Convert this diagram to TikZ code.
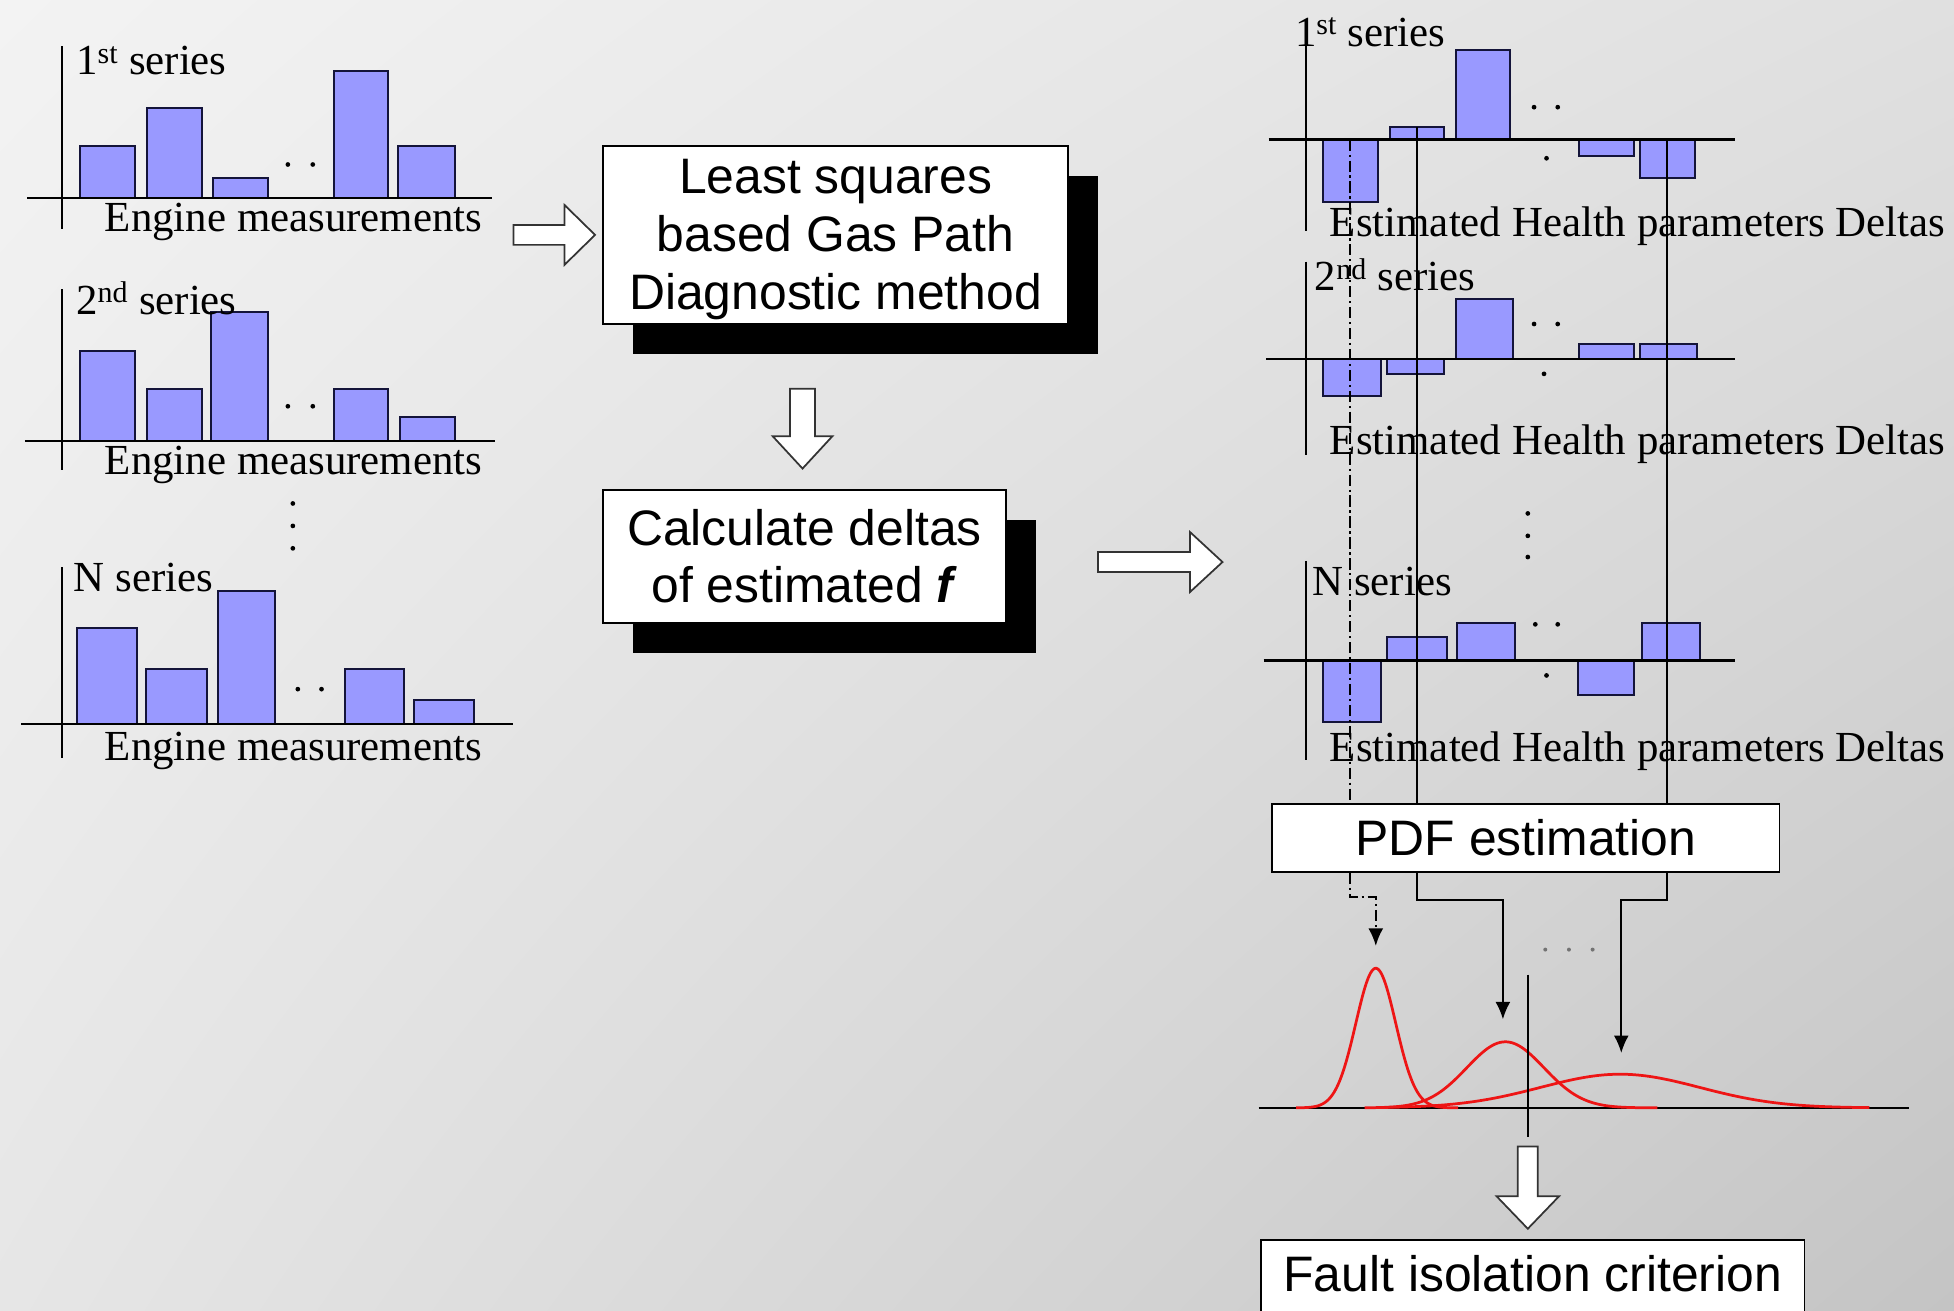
\documentclass[tikz,border=0pt]{standalone}
\usepackage{fontspec}
\setmainfont{Liberation Serif}
\newfontfamily\arialfont{Liberation Sans}
\usetikzlibrary{arrows.meta,shadows,shadings}
\definecolor{barblue}{HTML}{9999FF}
\definecolor{baredge}{HTML}{14143A}
\definecolor{pdfred}{HTML}{EE1515}
\definecolor{bgTL}{HTML}{F3F3F3}
\definecolor{bgTR}{HTML}{E0E0E0}
\definecolor{bgBL}{HTML}{E6E6E6}
\definecolor{bgBR}{HTML}{C4C4C4}
\begin{document}
\begin{tikzpicture}[x=1pt, y=-1pt,
  >={Latex[length=14pt,width=12pt]},
  axisline/.style={line width=1.9pt},
  barrect/.style={draw=baredge, line width=1.6pt, fill=barblue},
  serieslbl/.style={anchor=base west, inner sep=0pt, font=\fontsize{34.4}{40}\selectfont},
  procbox/.style={draw=black, line width=1.5pt, fill=white, inner sep=0pt, align=center,
    font=\arialfont\fontsize{40}{46.5}\selectfont},
  shadowed/.style={drop shadow={shadow xshift=24pt, shadow yshift=-24pt, fill=black, opacity=1}},
  hollowarrow/.style={draw=black!80, line width=1.4pt, fill=white, line join=miter},
  feedline/.style={line width=1.6pt},
  dashdotline/.style={line width=1.6pt, dash pattern=on 9pt off 3pt on 1.8pt off 3pt},
  density/.style={draw=pdfred, line width=2.2pt},
  dotmark/.style={fill=black},
  faintdot/.style={fill=black!55}
]
\useasboundingbox (0,0) rectangle (1568,1052);
\shade[upper left=bgTL, upper right=bgTR, lower left=bgBL, lower right=bgBR] (0,0) rectangle (1568,1052);

% ---------- left: engine measurement series ----------
% series 1
\draw[barrect] (64,159) rectangle (108,117) (118,159) rectangle (162,87) (171,159) rectangle (215,143)
  (268,159) rectangle (311,57) (319,159) rectangle (365,117);
\draw[axisline] (50,37) -- (50,184);
\draw[axisline] (22,159) -- (395,159);
\fill[dotmark] (231,132) circle (1.9pt) (251,132) circle (1.9pt);
\node[serieslbl] (ls1) at (61,60) {1\textsuperscript{st} series};
\node[serieslbl] (le1) at (84,186) {Engine measurements};

% series 2
\draw[barrect] (64,354) rectangle (108,282) (118,354) rectangle (162,312) (169,354) rectangle (215,250)
  (268,354) rectangle (311,312) (321,354) rectangle (365,335);
\draw[axisline] (50,232) -- (50,377);
\draw[axisline] (20,354) -- (397,354);
\fill[dotmark] (231,326) circle (1.9pt) (251,326) circle (1.9pt);
\node[serieslbl] (ls2) at (61,252) {2\textsuperscript{nd} series};
\node[serieslbl] (le2) at (84,381) {Engine measurements};

% vertical ellipsis
\fill[dotmark] (235,404) circle (1.9pt) (235,422) circle (1.9pt) (235,440) circle (1.9pt);

% series N
\draw[barrect] (62,581) rectangle (110,504) (117,581) rectangle (166,537) (175,581) rectangle (221,474)
  (277,581) rectangle (324,537) (332,581) rectangle (380,562);
\draw[axisline] (50,455) -- (50,608);
\draw[axisline] (17,581) -- (412,581);
\fill[dotmark] (239,553) circle (1.9pt) (258,553) circle (1.9pt);
\node[serieslbl] (lsn) at (59,475) {N series};
\node[serieslbl] (len) at (84,610) {Engine measurements};

% ---------- middle: processing boxes ----------
\node[procbox, shadowed, minimum width=373pt, minimum height=143pt] (ls) at (670.5,188.5)
  {\rule{0pt}{34.6pt}Least squares\\based Gas Path\\Diagnostic method};
\node[procbox, shadowed, minimum width=323pt, minimum height=107pt, font=\arialfont\fontsize{40}{46}\selectfont] (cd) at (645.5,446.5)
  {Calculate deltas\\of estimated \textbf{\textit{f}}};

% hollow arrows
\draw[hollowarrow] (412,180.5) -- (453,180.5) -- (453,164.5) -- (477.5,188.5) -- (453,212.5) -- (453,196.5) -- (412,196.5) -- cycle;
\draw[hollowarrow] (634,312) -- (654,312) -- (654,350) -- (668,350) -- (644,376) -- (620,350) -- (634,350) -- cycle;
\draw[hollowarrow] (881,443) -- (955,443) -- (955,427) -- (981,451) -- (955,475) -- (955,459) -- (881,459) -- cycle;

% ---------- right: estimated health parameter deltas ----------
% series 1
\draw[barrect] (1062,112) rectangle (1106,162) (1115,102) rectangle (1159,112) (1168,40) rectangle (1212,112)
  (1267,112) rectangle (1311,125) (1316,112) rectangle (1360,143);
\draw[axisline] (1048,18) -- (1048,185);
\draw[axisline] (1018,112) -- (1392,112);
\fill[dotmark] (1231,86) circle (1.9pt) (1250,86) circle (1.9pt) (1241,127) circle (1.9pt);
\node[serieslbl] (rs1) at (1039,37) {1\textsuperscript{st} series};
\node[serieslbl] (re1) at (1067,190) {Estimated Health parameters Deltas};

% series 2
\draw[barrect] (1062,288) rectangle (1108,318) (1113,288) rectangle (1159,300) (1168,240) rectangle (1214,288)
  (1267,276) rectangle (1311,288) (1316,276) rectangle (1362,288);
\draw[axisline] (1048,210) -- (1048,365);
\draw[axisline] (1016,288) -- (1392,288);
\fill[dotmark] (1231,260) circle (1.9pt) (1250,260) circle (1.9pt) (1239,300) circle (1.9pt);
\node[serieslbl] (rs2) at (1055,233) {2\textsuperscript{nd} series};
\node[serieslbl] (re2) at (1067,365) {Estimated Health parameters Deltas};

% vertical ellipsis
\fill[dotmark] (1226,412) circle (1.9pt) (1226,430) circle (1.9pt) (1226,447) circle (1.9pt);

% series N
\draw[barrect] (1062,530) rectangle (1108,579) (1113,511) rectangle (1161,530) (1169,500) rectangle (1216,530)
  (1266,530) rectangle (1311,558) (1318,500) rectangle (1364,530);
\draw[axisline] (1048,450) -- (1048,610);
\draw[axisline] (1014,530) -- (1392,530);
\fill[dotmark] (1232,501) circle (1.9pt) (1250,501) circle (1.9pt) (1241,542) circle (1.9pt);
\node[serieslbl] (rsn) at (1053,478) {N series};
\node[serieslbl] (ren) at (1067,611) {Estimated Health parameters Deltas};

% PDF estimation box
\node[procbox, minimum width=407pt, minimum height=55pt] (pdf) at (1224.5,672.5) {PDF estimation};

% parameter tracks collected into the PDF estimation
\coordinate (p1) at (1083,112);
\coordinate (p2) at (1137,102);
\coordinate (p3) at (1338,112);
\coordinate (bend) at (0,722);
\coordinate (pk1) at (1104,759);
\coordinate (pk2) at (1206,818);
\coordinate (pk3) at (1301,845);
\draw[dashdotline] (p1) -- (p1 |- pdf.north);
\draw[feedline] (p2) -- (p2 |- pdf.north);
\draw[feedline] (p3) -- (p3 |- pdf.north);
\draw[dashdotline, ->] (pdf.south -| p1) -- (p1 |- 0,720) -| (pk1);
\draw[feedline, ->] (pdf.south -| p2) -- (p2 |- bend) -| (pk2);
\draw[feedline, ->] (pdf.south -| p3) -- (p3 |- bend) -| (pk3);

% estimated densities
\draw[axisline] (1010,889) -- (1532,889);
\draw[density] plot[domain=1040:1170, samples=120, smooth] (\x,{889-112*exp(-0.5*((\x-1104)/16)^2)});
\draw[density] plot[domain=1095:1330, samples=120, smooth] (\x,{889-53*exp(-0.5*((\x-1208)/31)^2)});
\draw[density] plot[domain=1110:1500, samples=140, smooth] (\x,{889-27*exp(-0.5*((\x-1300)/64)^2)});
\draw[line width=1.6pt] (1226,782) -- (1226,912);
\fill[faintdot] (1240,762) circle (1.6pt) (1259,762) circle (1.6pt) (1278,762) circle (1.6pt);

% decision
\draw[hollowarrow] (1218,920) -- (1234,920) -- (1234,960) -- (1251,960) -- (1226,986) -- (1201,960) -- (1218,960) -- cycle;
\node[procbox, anchor=north, minimum width=436pt, text height=42pt, text depth=40pt] (fic) at (1230,994) {Fault isolation criterion};
\end{tikzpicture}
\end{document}
